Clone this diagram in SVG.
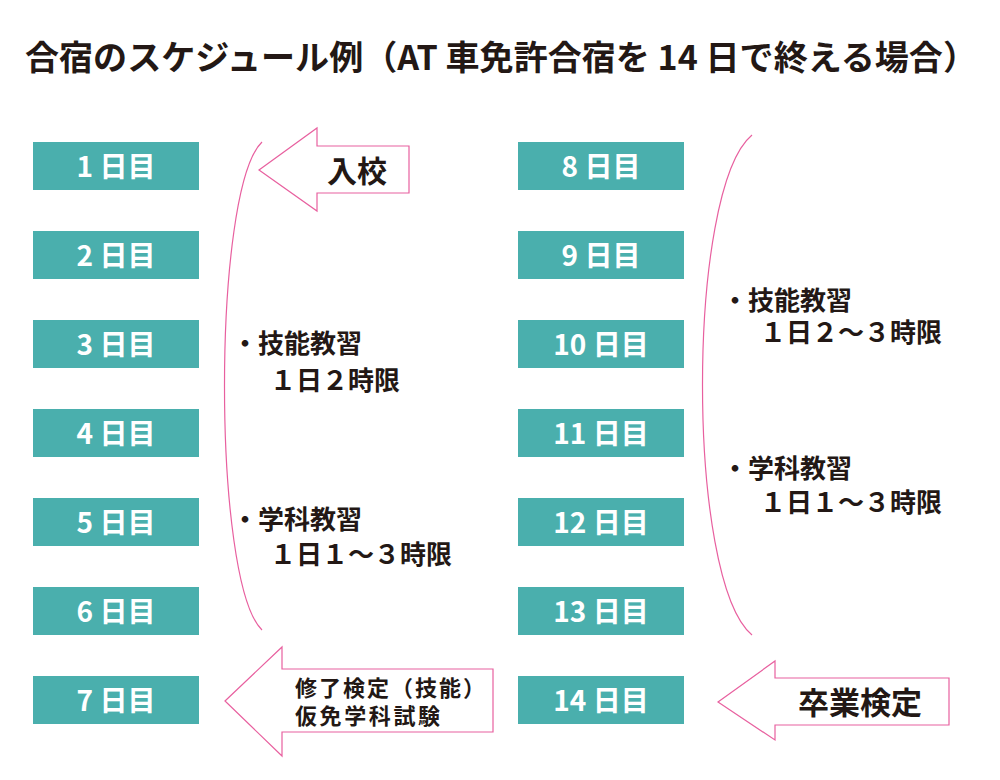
<svg xmlns="http://www.w3.org/2000/svg" width="1000" height="780" viewBox="0 0 1000 780">
<style>
  .box { fill: #4aafad; }
  .bt { fill: #ffffff; font-family: "Noto Sans CJK JP", "Noto Sans", sans-serif; font-weight: 700; font-size: 28px; text-anchor: middle; }
  .t { fill: #231815; font-family: "Noto Sans CJK JP", "Noto Sans", sans-serif; font-weight: 700; font-size: 26px; }
  .lbl { fill: #231815; font-family: "Noto Sans CJK JP", "Noto Sans", sans-serif; font-weight: 700; }
  .pk { fill: none; stroke: #e8609f; stroke-width: 1.2; }
  .arr { fill: #ffffff; stroke: #e8609f; stroke-width: 1.2; stroke-linejoin: miter; }
</style>
<rect width="1000" height="780" fill="#ffffff"/>
<text id="title" x="25" y="70" class="lbl" font-size="34" textLength="952" lengthAdjust="spacingAndGlyphs">合宿のスケジュール例（AT 車免許合宿を 14 日で終える場合）</text>

<g id="day1"><rect class="box" x="33" y="142" width="166" height="48"/><text class="bt" x="116" y="177">1 日目</text></g>
<g id="day2"><rect class="box" x="33" y="231" width="166" height="48"/><text class="bt" x="116" y="266">2 日目</text></g>
<g id="day3"><rect class="box" x="33" y="320" width="166" height="48"/><text class="bt" x="116" y="355">3 日目</text></g>
<g id="day4"><rect class="box" x="33" y="409" width="166" height="48"/><text class="bt" x="116" y="444">4 日目</text></g>
<g id="day5"><rect class="box" x="33" y="498" width="166" height="48"/><text class="bt" x="116" y="533">5 日目</text></g>
<g id="day6"><rect class="box" x="33" y="587" width="166" height="48"/><text class="bt" x="116" y="622">6 日目</text></g>
<g id="day7"><rect class="box" x="33" y="676" width="166" height="48"/><text class="bt" x="116" y="711">7 日目</text></g>

<g id="day8"><rect class="box" x="518" y="142" width="166" height="48"/><text class="bt" x="601" y="177">8 日目</text></g>
<g id="day9"><rect class="box" x="518" y="231" width="166" height="48"/><text class="bt" x="601" y="266">9 日目</text></g>
<g id="day10"><rect class="box" x="518" y="320" width="166" height="48"/><text class="bt" x="601" y="355">10 日目</text></g>
<g id="day11"><rect class="box" x="518" y="409" width="166" height="48"/><text class="bt" x="601" y="444">11 日目</text></g>
<g id="day12"><rect class="box" x="518" y="498" width="166" height="48"/><text class="bt" x="601" y="533">12 日目</text></g>
<g id="day13"><rect class="box" x="518" y="587" width="166" height="48"/><text class="bt" x="601" y="622">13 日目</text></g>
<g id="day14"><rect class="box" x="518" y="676" width="166" height="48"/><text class="bt" x="601" y="711">14 日目</text></g>

<g id="connectors">
  <path class="pk" d="M262,142 C212,190 212,582 262,630"/>
  <path class="pk" d="M752,135 C686,190 686,580 752,635"/>
  <path class="arr" d="M259,170 L317,128 L317,146 L409,146 L409,193 L317,193 L317,211 Z"/>
  <path class="arr" d="M225,701 L282,647 L282,669 L493,669 L493,732 L282,732 L282,756 Z"/>
  <path class="arr" d="M718,702 L775,661 L775,678 L949,678 L949,725 L775,725 L775,740 Z"/>
</g>

<g id="label-nyuko"><text class="lbl" x="357" y="182" font-size="30" text-anchor="middle">入校</text></g>
<g id="label-shuryo">
  <text class="lbl" x="295" y="696" font-size="22" textLength="190">修了検定（技能）</text>
  <text class="lbl" x="295" y="724" font-size="22" textLength="145">仮免学科試験</text>
</g>
<g id="label-sotsugyo"><text class="lbl" x="860" y="714" font-size="31" text-anchor="middle">卒業検定</text></g>

<g id="left-ginou">
  <text class="t" x="232" y="353">・技能教習</text>
  <text class="t" x="270" y="390">１日２時限</text>
</g>
<g id="left-gakka">
  <text class="t" x="232" y="529">・学科教習</text>
  <text class="t" x="270" y="564">１日１～３時限</text>
</g>
<g id="right-ginou">
  <text class="t" x="722" y="310">・技能教習</text>
  <text class="t" x="760" y="342">１日２～３時限</text>
</g>
<g id="right-gakka">
  <text class="t" x="722" y="478">・学科教習</text>
  <text class="t" x="760" y="512">１日１～３時限</text>
</g>
</svg>
